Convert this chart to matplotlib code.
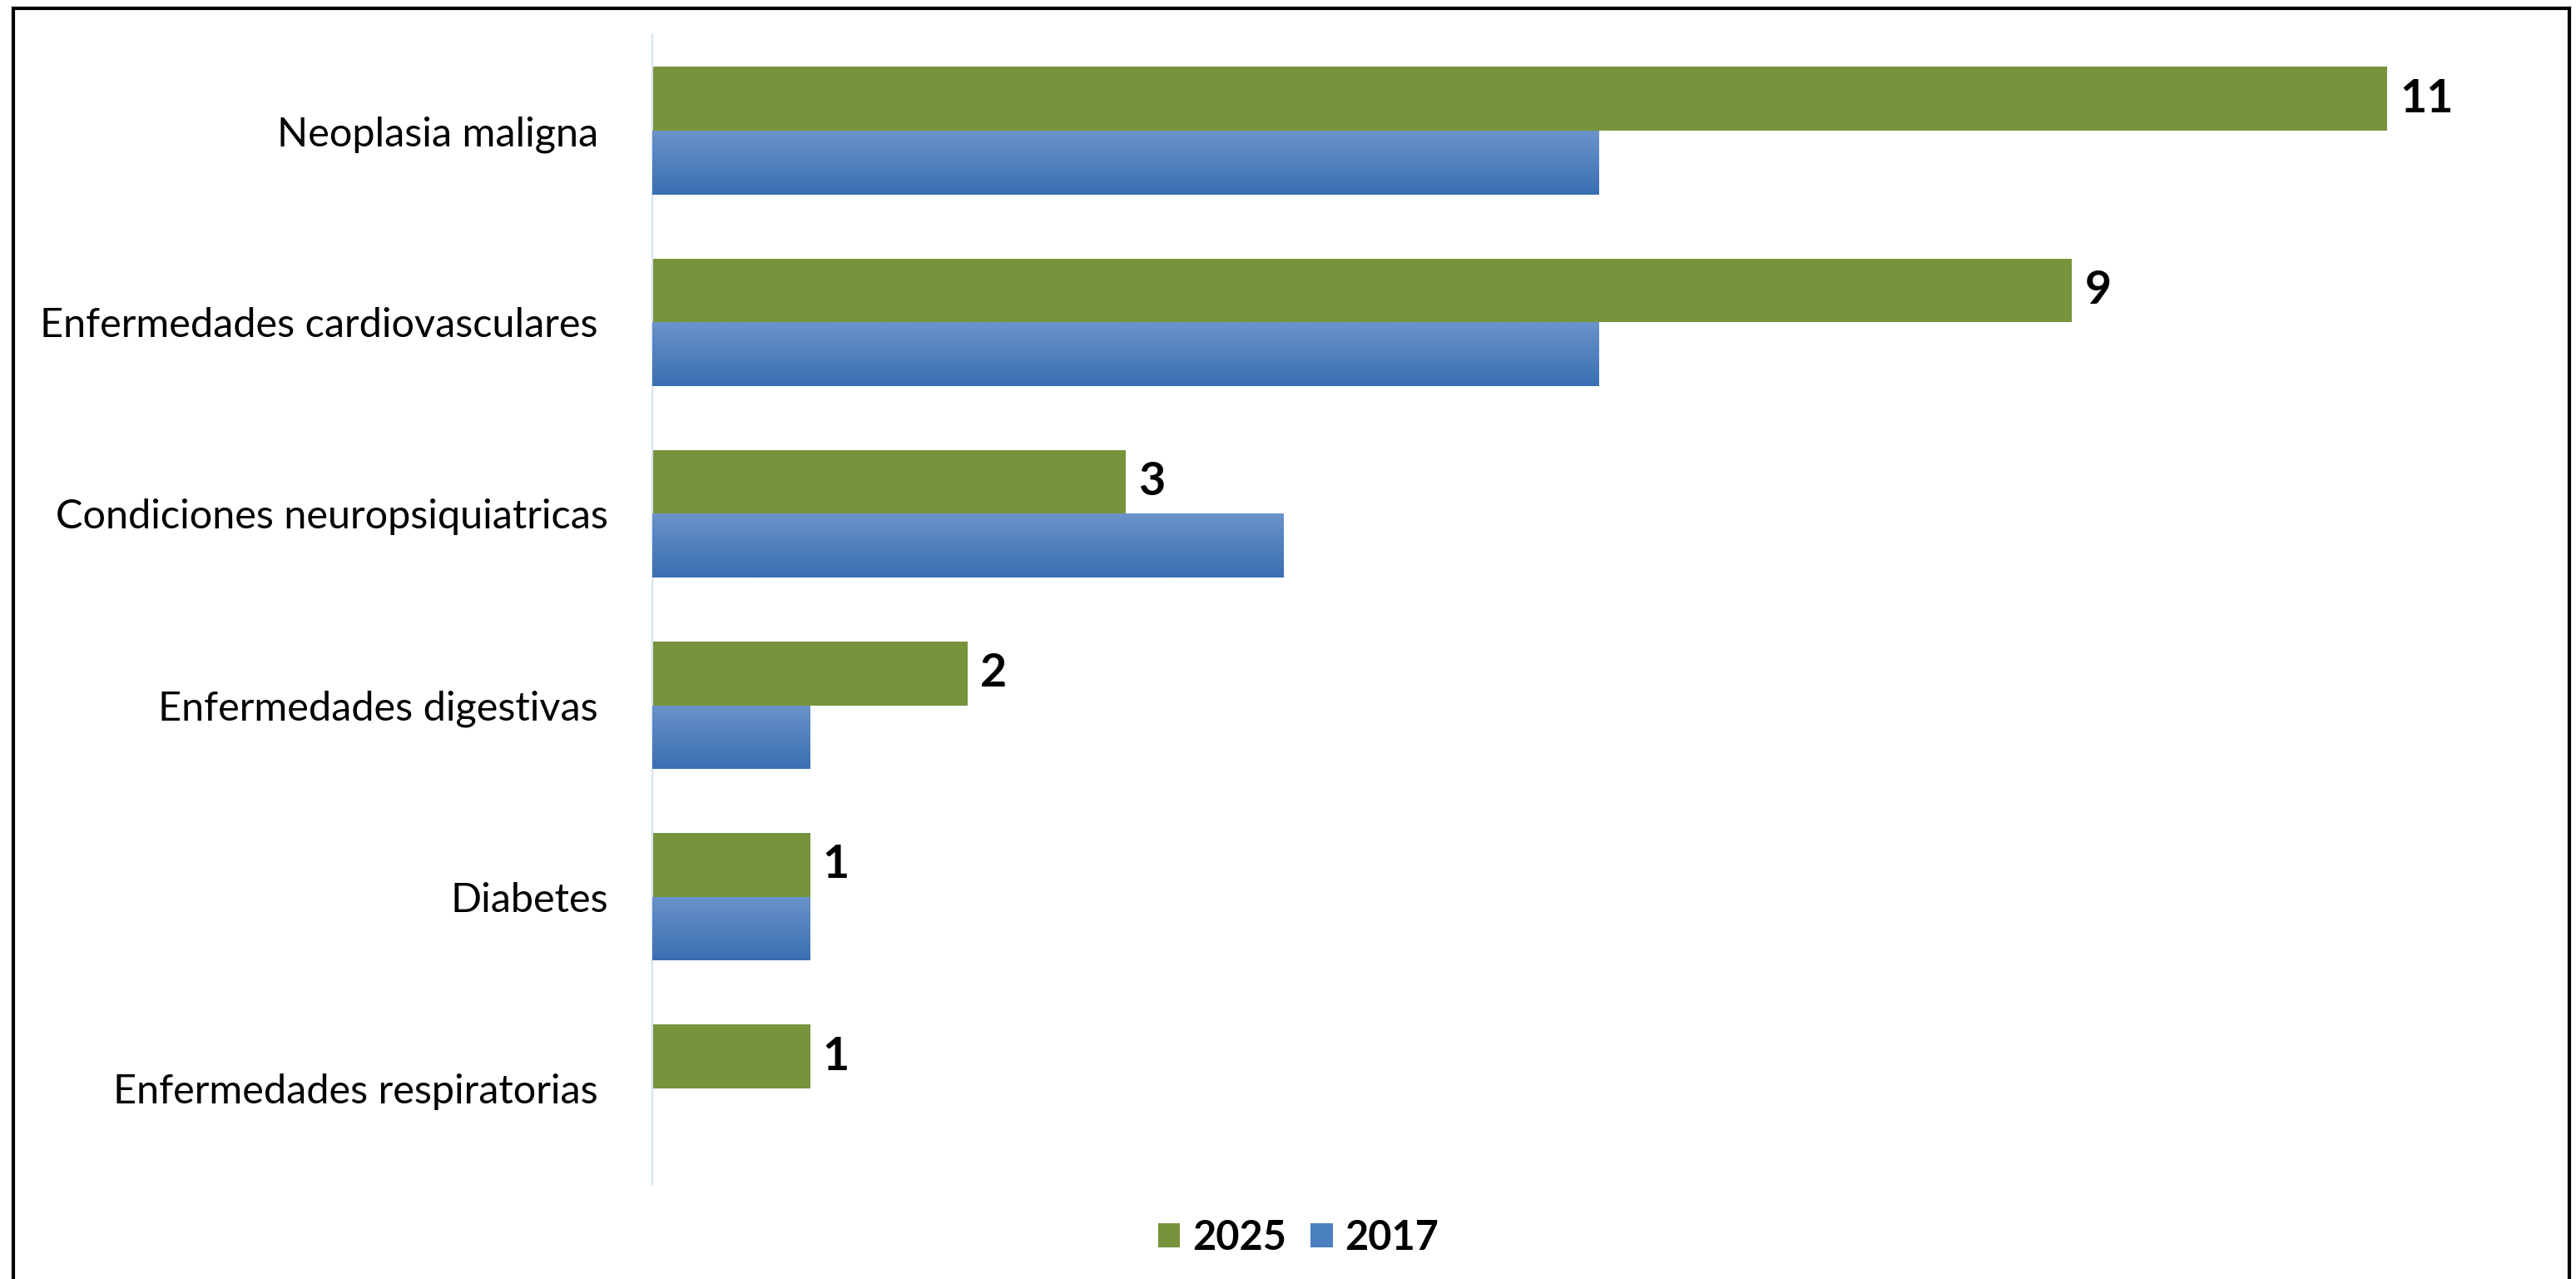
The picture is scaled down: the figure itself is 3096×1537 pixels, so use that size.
import numpy as np
import matplotlib.pyplot as plt
from matplotlib.patches import Patch
from matplotlib.colors import LinearSegmentedColormap

# --- data ---------------------------------------------------------------
categories = [
    'Neoplasia maligna ',
    'Enfermedades cardiovasculares ',
    'Condiciones neuropsiquiatricas',
    'Enfermedades digestivas ',
    'Diabetes',
    'Enfermedades respiratorias ',
]
values_2025 = [11, 9, 3, 2, 1, 1]
values_2017 = [6, 6, 4, 1, 1, 0]
series_labels = ['2025', '2017']

# --- style --------------------------------------------------------------
green = '#77933C'
blue_top = '#6A93CA'
blue_bot = '#3A6FB2'
blue_mid = '#4A7FC0'
label_font = 'Lato'

W, H, DPI = 3096, 1537, 100
fig = plt.figure(figsize=(W / DPI, H / DPI), dpi=DPI)
ax = fig.add_axes([784 / W, 1 - 1423 / H, (3059 - 784) / W, (1423 - 42) / H])

n = len(categories)
y = np.arange(n)
h = 1 / 3

bars_g = ax.barh(y - h / 2, values_2025, height=h, color=green, linewidth=0)
bars_b = ax.barh(y + h / 2, values_2017, height=h, color=blue_mid, linewidth=0)

# vertical gradient on the 2017 bars
cmap = LinearSegmentedColormap.from_list('bl', [blue_top, blue_bot])
grad = np.linspace(0, 1, 64).reshape(-1, 1)
for b in bars_b:
    if b.get_width() <= 0:
        continue
    x0, y0 = b.get_x(), b.get_y()
    im = ax.imshow(grad, cmap=cmap, aspect='auto', origin='upper',
                   extent=(x0, x0 + b.get_width(), y0 + b.get_height(), y0),
                   zorder=3)
    im.set_clip_path(b)

ax.set_xlim(0, 12)
ax.set_ylim(n - 0.5, -0.5)

# value labels for 2025
for b, v in zip(bars_g, values_2025):
    ax.text(b.get_width() + 0.08, b.get_y() + b.get_height() / 2, str(v),
            ha='left', va='center', fontsize=40, fontweight='bold',
            family=label_font, color='black')

ax.set_yticks(y)
ax.set_yticklabels(categories, fontsize=35, family=label_font)
ax.tick_params(axis='y', length=0, pad=38)
ax.set_xticks([])
for s in ['top', 'right', 'bottom']:
    ax.spines[s].set_visible(False)
ax.spines['left'].set_color('#D6E2F0')
ax.spines['left'].set_linewidth(1.5)

# legend
handles = [Patch(facecolor=green, edgecolor='none'),
           Patch(facecolor=blue_mid, edgecolor='none')]
leg = fig.legend(handles, series_labels, loc='center', ncol=2,
                 bbox_to_anchor=(0.504, 1 - 1487 / H), frameon=False,
                 prop={'family': label_font, 'weight': 'bold', 'size': 35},
                 handlelength=0.55, handleheight=0.55, handletextpad=0.3,
                 columnspacing=0.6)

# outer border (left, top, right)
fig.add_artist(plt.Line2D([16 / W, 16 / W], [0, 1 - 10 / H], color='black',
                          lw=3, transform=fig.transFigure))
fig.add_artist(plt.Line2D([16 / W, 3088 / W], [1 - 10 / H, 1 - 10 / H],
                          color='black', lw=3, transform=fig.transFigure))
fig.add_artist(plt.Line2D([3088 / W, 3088 / W], [0, 1 - 10 / H], color='black',
                          lw=3, transform=fig.transFigure))

fig.savefig('out.png', dpi=DPI)
